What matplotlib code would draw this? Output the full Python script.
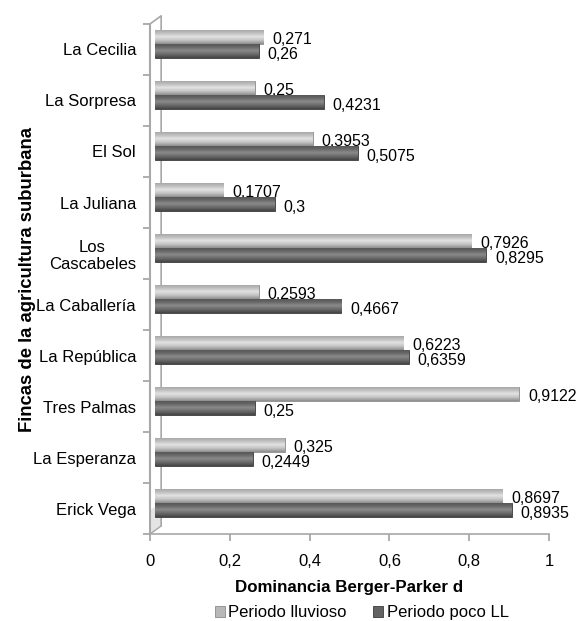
import numpy as np
import matplotlib.pyplot as plt
from matplotlib.ticker import FixedLocator, FuncFormatter
from matplotlib.colors import LinearSegmentedColormap

plt.rcParams['font.family'] = ['Liberation Sans', 'DejaVu Sans']

fincas = ['La Cecilia', 'La Sorpresa', 'El Sol', 'La Juliana', 'Los\nCascabeles',
          'La Caballería', 'La República', 'Tres Palmas', 'La Esperanza', 'Erick Vega']
lluvioso = [0.271, 0.25, 0.3953, 0.1707, 0.7926, 0.2593, 0.6223, 0.9122, 0.325, 0.8697]
poco_ll = [0.26, 0.4231, 0.5075, 0.3, 0.8295, 0.4667, 0.6359, 0.25, 0.2449, 0.8935]
lbl_lluv = ['0,271', '0,25', '0,3953', '0,1707', '0,7926', '0,2593', '0,6223', '0,9122', '0,325', '0,8697']
lbl_poco = ['0,26', '0,4231', '0,5075', '0,3', '0,8295', '0,4667', '0,6359', '0,25', '0,2449', '0,8935']

light = '#b8b8b8'
dark = '#636363'
cm_light = LinearSegmentedColormap.from_list('l', ['#8e8e8e', '#c4c4c4', '#e2e2e2', '#bdbdbd', '#a2a2a2'])
cm_dark = LinearSegmentedColormap.from_list('d', ['#454545', '#6a6a6a', '#8a8a8a', '#666666', '#525252'])

n = len(fincas)
y = np.arange(n)[::-1]
h = 0.28
depth = 0.013  # 3D depth offset of the bars

fig = plt.figure(figsize=(5.78, 6.21), dpi=100)
ax = fig.add_axes([0.2595, 0.14, 0.6903, 0.8214])

b1 = ax.barh(y + 0.25, lluvioso, height=h, left=depth, color=light, edgecolor='#8a8a8a',
             linewidth=0.6, label='Periodo lluvioso', zorder=3)
b2 = ax.barh(y - 0.03, poco_ll, height=h, left=depth, color=dark, edgecolor='#3c3c3c',
             linewidth=0.6, label='Periodo poco LL', zorder=3)

grad = np.linspace(0, 1, 50).reshape(-1, 1)
for bars, cm in [(b1, cm_light), (b2, cm_dark)]:
    for p in bars:
        x0, y0 = p.get_x(), p.get_y()
        im = ax.imshow(grad, cmap=cm, aspect='auto', origin='lower', zorder=3.5,
                       extent=[x0, x0 + p.get_width(), y0, y0 + p.get_height()])
        im.set_clip_path(p)

ax.set_xlim(0, 1)
ax.set_ylim(-0.5, n - 0.5)

for i in range(n):
    ax.text(lluvioso[i] + 0.035, y[i] + 0.20, lbl_lluv[i], fontsize=11.5, va='center', ha='left')
    ax.text(poco_ll[i] + 0.035, y[i] - 0.10, lbl_poco[i], fontsize=11.5, va='center', ha='left')

ax.set_xticks([0, 0.2, 0.4, 0.6, 0.8, 1])
ax.xaxis.set_major_formatter(FuncFormatter(lambda v, p: ('%g' % v).replace('.', ',')))
ax.set_yticks(y)
ax.set_yticklabels(fincas, fontsize=12, ha='right', multialignment='center')
ax.tick_params(axis='y', length=0, pad=10)
ax.yaxis.set_minor_locator(FixedLocator(np.arange(-0.5, n, 1)))
ax.tick_params(axis='y', which='minor', length=5, color='#a0a0a0', width=1.2)
ax.tick_params(axis='x', length=5, color='#a0a0a0', width=1.2, labelsize=12, pad=9)

for s in ['top', 'right']:
    ax.spines[s].set_visible(False)
ax.spines['left'].set_color('#a8a8a8')
ax.spines['left'].set_linewidth(1.5)
ax.spines['bottom'].set_color('#a8a8a8')
ax.spines['bottom'].set_linewidth(1.2)

# back wall of the 3D frame
dx, dy = 0.028, 0.016
ax.plot([0, dx, dx], [1, 1 + dy, dy], transform=ax.transAxes, color='#a8a8a8',
        lw=1.2, clip_on=False, zorder=2)
ax.plot([0, dx], [0, dy], transform=ax.transAxes, color='#a8a8a8', lw=1.0,
        clip_on=False, zorder=2)
ax.fill([0, dx, dx, 0], [0, dy, 0.06, 0.045], transform=ax.transAxes, color='#e4e4e4',
        zorder=1, clip_on=False)

ax.set_xlabel('Dominancia Berger-Parker d', fontsize=12.2, fontweight='bold', labelpad=8)
ax.set_ylabel('Fincas de la agricultura suburbana', fontsize=13.3, fontweight='bold')
ax.yaxis.set_label_coords(-0.285, 0.50)

fig.legend(loc='center', bbox_to_anchor=(0.626, 0.013), ncol=2, frameon=False,
           fontsize=12, handlelength=0.6, handleheight=0.6, handletextpad=0.2,
           columnspacing=1.6)

plt.savefig('out.png', dpi=100)
